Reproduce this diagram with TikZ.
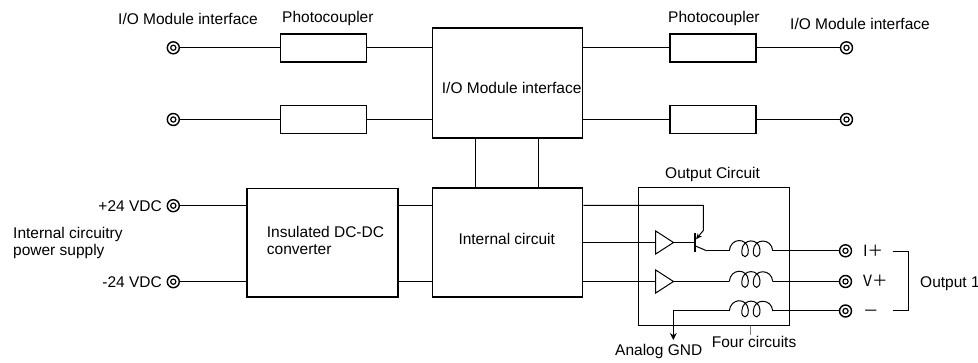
\documentclass[tikz,border=0pt]{standalone}
\usepackage{fontspec}
\setmainfont{Liberation Sans}
\newfontfamily\cjk{Noto Sans CJK JP}
\usetikzlibrary{arrows.meta,calc}
\tikzset{
  lbl/.style={inner sep=0pt, font=\fontsize{15.5}{17}\selectfont},
  blk/.style={draw, line width=1.8pt, inner sep=0pt, minimum width=150pt},
  pcbox/.style={draw, line width=1.5pt, inner sep=0pt, minimum width=86pt, minimum height=28pt},
  term/.style={circle, draw, line width=1.4pt, minimum size=12pt, inner sep=0pt,
    path picture={\draw[line width=1.2pt] (path picture bounding box.center) circle[radius=2.6pt];}},
  wire/.style={line width=1pt},
  coil/.pic={
    \draw[wire] (0,0) .. controls (1,-13) and (18,-14) .. (19,-1)
      .. controls (19.5,8) and (12,8) .. (12.5,0)
      .. controls (13,-13) and (30,-13) .. (30.7,-1)
      .. controls (31,8) and (23.5,8) .. (24,0)
      .. controls (24.5,-13) and (42.5,-13) .. (43.4,0);
    \coordinate (-in) at (0,0);
    \coordinate (-out) at (43.4,0);
  }
}
\begin{document}
\begin{tikzpicture}[x=1pt,y=-1pt]
\path[fill=white,use as bounding box] (0,0) rectangle (978,363);

% top labels
\node[lbl,anchor=base west] (tIOL) at (118,24.5) {I/O Module interface};
\node[lbl,anchor=base west] (tPCL) at (282,22.7) {Photocoupler};
\node[lbl,anchor=base west] (tPCR) at (668,22.7) {Photocoupler};
\node[lbl,anchor=base west] (tIOR) at (790,29.3) {I/O Module interface};

% terminals
\node[term] (a1) at (173.3,47.8) {};
\node[term] (a2) at (173.3,119.5) {};
\node[term] (b1) at (846.5,47.8) {};
\node[term] (b2) at (846.5,119.5) {};
\node[term] (pp) at (173.3,205.7) {};
\node[term] (pm) at (173.3,281.7) {};
\node[term] (o1) at (845.5,250.8) {};
\node[term] (o2) at (845.5,281.5) {};
\node[term] (o3) at (845.5,311) {};

% photocouplers
\node[pcbox] (pl1) at (323.5,47.8) {};
\node[pcbox] (pl2) at (323.5,119.5) {};
\node[pcbox] (pr1) at (713,47.8) {};
\node[pcbox] (pr2) at (713,119.5) {};

% blocks
\node[blk, minimum height=110pt] (io) at (507.5,83) {};
\node[lbl,anchor=base west] (tio) at (441.7,93.8) {I/O Module interface};
\node[blk, minimum height=109pt] (ic) at (507.5,242.5) {};
\node[lbl,anchor=base west] (tic) at (458.3,244.8) {Internal circuit};
\node[blk, minimum height=108.5pt, minimum width=151pt] (dc) at (322.8,242.8) {};
\node[lbl,anchor=north west,align=left] (tdc) at (266.7,226.3) {Insulated DC-DC\\converter};

% output circuit box
\node[draw, line width=1pt, inner sep=0pt, minimum width=150.7pt, minimum height=137.7pt] (oc) at (713.7,256.2) {};
\node[lbl,anchor=base west] (toc) at (665,178.3) {Output Circuit};

% power labels
\node[lbl,anchor=base east] (tpp) at (162,211.2) {+24 VDC};
\node[lbl,anchor=base east] (tpm) at (162,287.2) {-24 VDC};
\node[lbl,anchor=north west,align=left] (tps) at (13,226.7) {Internal circuitry\\power supply};

% top wires
\draw[wire] (a1) -- (pl1.west);
\draw[wire] (pl1.east) -- (io.west |- pl1);
\draw[wire] (a2) -- (pl2.west);
\draw[wire] (pl2.east) -- (io.west |- pl2);
\draw[wire] (io.east |- pr1) -- (pr1.west);
\draw[wire] (pr1.east) -- (b1);
\draw[wire] (io.east |- pr2) -- (pr2.west);
\draw[wire] (pr2.east) -- (b2);
\draw[wire] ($(io.south west)!0.29!(io.south east)$) -- ($(ic.north west)!0.29!(ic.north east)$);
\draw[wire] ($(io.south west)!0.705!(io.south east)$) -- ($(ic.north west)!0.705!(ic.north east)$);

% power wires
\draw[wire] (pp) -- (dc.west |- pp);
\draw[wire] (pm) -- (dc.west |- pm);
\draw[wire] (dc.east |- pp) -- (ic.west |- pp);
\draw[wire] (dc.east |- pm) -- (ic.west |- pm);

% buffers
\coordinate (b1in) at (655.7,242.5);
\coordinate (b1out) at (673.5,242.5);
\coordinate (b2in) at (655.7,281.5);
\coordinate (b2out) at (673.5,281.5);
\draw[wire] (b1in) -- ++(0,-11.5) -- (b1out) -- ($(b1in)+(0,11.5)$) -- cycle;
\draw[wire] (b2in) -- ++(0,-11.5) -- (b2out) -- ($(b2in)+(0,11.5)$) -- cycle;
\draw[wire] (ic.east |- b1in) -- (b1in);
\draw[wire] (ic.east |- b2in) -- (b2in);

% transistor
\coordinate (btop) at (695,233.3);
\coordinate (bbot) at (695,251.7);
\coordinate (bmid) at (695,242.5);
\coordinate (eTop) at (703.3,205.3);
\coordinate (eKnee) at (703.3,230.5);
\coordinate (eBar) at (696,239.3);
\coordinate (cBar) at (695.5,246);
\coordinate (cKnee) at (706.7,250.8);
\draw[line width=1.3pt] (btop) -- (bbot);
\draw[wire] (b1out) -- (bmid);
\draw[wire,-{Stealth[length=6pt,width=5pt]}] (ic.east |- eTop) -- (eTop) -- (eKnee) -- (eBar);
\draw[wire] (cBar) -- (cKnee);

% coils
\pic (l1) at (729.3,250.8) {coil};
\pic (l2) at (729.3,281.5) {coil};
\pic (l3) at (729.3,311) {coil};
\draw[wire] (cKnee) -- (l1-in);
\draw[wire] (b2out) -- (l2-in);
\draw[wire] (l1-out) -- (o1);
\draw[wire] (l2-out) -- (o2);
\draw[wire] (l3-out) -- (o3);
\coordinate (gnd) at (673.3,340);
\draw[wire,-{Stealth[length=7pt,width=7pt]}] (l3-in) -| (gnd);
\node[lbl,anchor=base west] (tgnd) at (615,356) {Analog GND};

% four circuits tick
\coordinate (fc) at (750.7,335);
\draw[line width=1pt, gray] (oc.south -| fc) -- (fc);
\node[lbl,anchor=base west] (tfc) at (711.7,348) {Four circuits};

% output labels
\node[lbl,anchor=base west] (to1) at (863,256.5) {\cjk I＋};
\node[lbl,anchor=base west] (to2) at (863,287) {\cjk V＋};
\node[lbl,anchor=base west] (to3) at (863,316.5) {\cjk －};
\coordinate (br1) at (892.7,251.7);
\coordinate (br2) at (908.3,251.7);
\coordinate (br3) at (908.3,311);
\coordinate (br4) at (892.7,311);
\draw[wire] (br1) -- (br2) -- (br3) -- (br4);
\node[lbl,anchor=base west] (tout) at (920,287.7) {Output 1};
\end{tikzpicture}
\end{document}
